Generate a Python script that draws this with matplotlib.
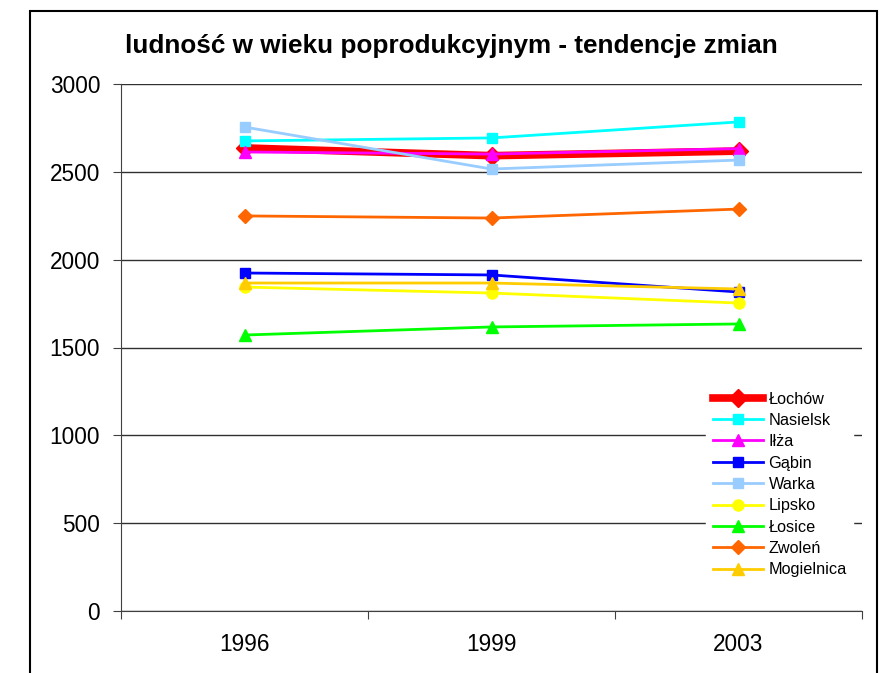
import matplotlib
matplotlib.use("Agg")
import matplotlib.pyplot as plt
from matplotlib.patches import Rectangle

plt.rcParams['font.family'] = ['Liberation Sans', 'DejaVu Sans']

years = ["1996", "1999", "2003"]
title = "ludność w wieku poprodukcyjnym - tendencje zmian"

lochow = [2636, 2592, 2618]
nasielsk = [2676, 2693, 2784]
ilza = [2613, 2601, 2632]
gabin = [1924, 1913, 1816]
warka = [2755, 2516, 2567]
lipsko = [1844, 1810, 1753]
losice = [1571, 1617, 1634]
zwolen = [2249, 2237, 2288]
mogielnica = [1867, 1867, 1833]

series = [
    ("Łochów", lochow, "#FF0000", "D", 5.5, 9),
    ("Nasielsk", nasielsk, "#00FFFF", "s", 2.0, 7.5),
    ("Iłża", ilza, "#FF00FF", "^", 2.0, 9),
    ("Gąbin", gabin, "#0000FF", "s", 2.0, 7.5),
    ("Warka", warka, "#99CCFF", "s", 2.0, 7.5),
    ("Lipsko", lipsko, "#FFFF00", "o", 2.0, 8),
    ("Łosice", losice, "#00FF00", "^", 2.0, 9),
    ("Zwoleń", zwolen, "#FF6600", "D", 2.0, 7),
    ("Mogielnica", mogielnica, "#FFCC00", "^", 2.0, 9),
]

W, H = 884, 673
fig = plt.figure(figsize=(W / 100, H / 100), dpi=100)
fig.patch.set_facecolor("white")

# outer frame (open at the bottom, cropped)
fig.patches.append(Rectangle((30 / W, -0.05), 847 / W, (H - 11) / H + 0.05,
                             transform=fig.transFigure, fill=False,
                             edgecolor="black", linewidth=1.5))

ax = fig.add_axes([121 / W, (H - 611) / H, (862 - 121) / W, (611 - 84) / H])
x = list(range(len(years)))
for name, vals, color, marker, lw, ms in series:
    ax.plot(x, vals, color=color, marker=marker, linewidth=lw,
            markersize=ms, markeredgecolor=color, label=name,
            solid_joinstyle="miter", clip_on=False)

ax.set_xlim(-0.5, len(years) - 0.5)
ax.set_ylim(0, 3000)
ax.set_yticks(range(0, 3001, 500))
ax.yaxis.grid(True, color="#303030", linewidth=1.0)
ax.set_axisbelow(True)
ax.set_xticks([i - 0.5 for i in range(len(years) + 1)])
ax.set_xticklabels([])
ax.set_xticks(x, minor=True)
ax.set_xticklabels(years, minor=True)
ax.tick_params(axis="x", which="minor", length=0, pad=16, labelsize=16.3)
ax.tick_params(axis="x", which="major", length=6, direction="out", color="#404040")
ax.tick_params(axis="y", length=6, direction="out", pad=9, labelsize=16.3, color="#404040")
for s in ["top", "right"]:
    ax.spines[s].set_visible(False)
ax.spines["left"].set_color("#404040")
ax.spines["bottom"].set_color("#404040")

fig.text(451 / W, (H - 46) / H, title, ha="center", va="center",
         fontsize=18.8, fontweight="bold")

leg = ax.legend(loc="upper left", bbox_to_anchor=(706 / W, (H - 385) / H),
                bbox_transform=fig.transFigure, fontsize=11.7, frameon=True,
                handlelength=3.1, handletextpad=0.35, labelspacing=0.39,
                borderpad=0.4, borderaxespad=0)
leg.get_frame().set_facecolor("white")
leg.get_frame().set_edgecolor("white")
leg.get_frame().set_alpha(1)

fig.savefig("out.png", dpi=100)
